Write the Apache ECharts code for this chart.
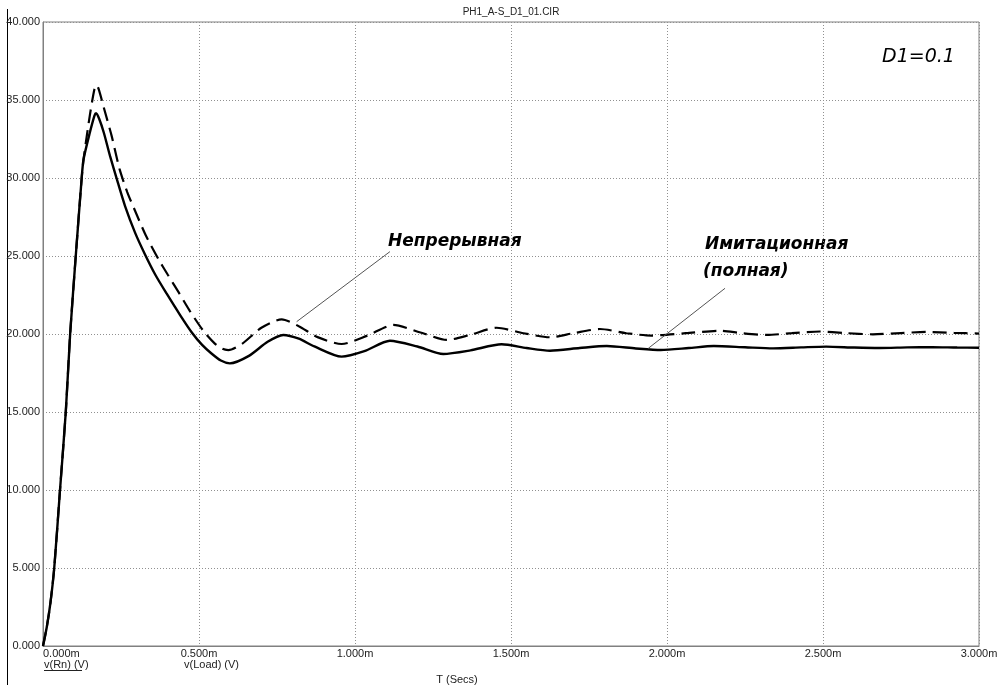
<!DOCTYPE html>
<html>
<head>
<meta charset="utf-8">
<script src="https://cdn.jsdelivr.net/npm/echarts@6/dist/echarts.min.js"></script>
<style>html,body{margin:0;padding:0;background:#fff}#c{width:997px;height:685px}</style>
</head>
<body>
<div id="c"></div>
<script>
// Time in ms
const solidT = [0, 0.012, 0.024, 0.036, 0.0545, 0.073, 0.087, 0.105, 0.124, 0.130, 0.15, 0.165, 0.17, 0.18, 0.195, 0.215, 0.24, 0.263, 0.295, 0.327, 0.36, 0.396, 0.44, 0.477, 0.51, 0.54, 0.57, 0.599, 0.66, 0.72, 0.77, 0.82, 0.87, 0.957, 1.03, 1.112, 1.2, 1.283, 1.37, 1.47, 1.55, 1.625, 1.72, 1.807, 1.9, 1.98, 2.07, 2.15, 2.25, 2.34, 2.43, 2.51, 2.6, 2.68, 2.77, 2.85, 2.93, 3.0];
const solidV = [0, 1.2, 2.8, 5, 10, 15, 20, 25, 30, 31.2, 32.9, 34.0, 34.15, 33.8, 32.9, 31.4, 29.7, 28.2, 26.5, 25.1, 23.8, 22.6, 21.2, 20.1, 19.3, 18.75, 18.3, 18.12, 18.6, 19.5, 19.94, 19.7, 19.2, 18.55, 18.9, 19.57, 19.2, 18.72, 18.95, 19.34, 19.1, 18.93, 19.1, 19.23, 19.07, 18.97, 19.1, 19.23, 19.15, 19.08, 19.14, 19.19, 19.13, 19.1, 19.14, 19.16, 19.13, 19.12];
const dashT = [0, 0.012, 0.024, 0.036, 0.0545, 0.073, 0.087, 0.105, 0.124, 0.130, 0.15, 0.165, 0.172, 0.18, 0.195, 0.22, 0.245, 0.27, 0.295, 0.33, 0.37, 0.40, 0.434, 0.47, 0.514, 0.55, 0.575, 0.594, 0.64, 0.70, 0.765, 0.82, 0.88, 0.957, 1.04, 1.123, 1.21, 1.294, 1.37, 1.454, 1.54, 1.625, 1.70, 1.785, 1.87, 1.95, 2.06, 2.17, 2.24, 2.32, 2.40, 2.49, 2.57, 2.66, 2.75, 2.83, 2.92, 3.0];
const dashV = [0, 1.2, 2.8, 5, 10, 15, 20, 25, 30, 31.2, 34.0, 35.7, 35.96, 35.6, 34.5, 32.7, 30.6, 29.1, 27.9, 26.3, 24.8, 23.8, 22.7, 21.5, 20.2, 19.4, 19.05, 18.97, 19.4, 20.4, 20.94, 20.5, 19.8, 19.36, 19.9, 20.58, 20.1, 19.62, 19.95, 20.4, 20.05, 19.79, 20.05, 20.32, 20.05, 19.9, 20.05, 20.21, 20.05, 19.94, 20.05, 20.16, 20.06, 19.98, 20.06, 20.13, 20.07, 20.03];
const leaderCont = [[0.813, 20.79], [1.112, 25.28]];
const leaderSim = [[1.940, 19.08], [2.186, 22.93]];
const xTicks = {min: 0, max: 3, interval: 0.5};
const yTicks = {min: 0, max: 40, interval: 5};

const zip = (t, v) => t.map((x, i) => [x, v[i]]);
const chart = echarts.init(document.getElementById('c'), null, {renderer: 'canvas'});
const lblFont = {fontFamily: 'Liberation Sans', fontSize: 11, color: '#222'};
const annFont = 'italic bold 17px "DejaVu Sans"';
chart.setOption({
  animation: false,
  backgroundColor: '#fff',
  grid: {left: 43, right: 18, top: 22, bottom: 39, show: true, borderColor: '#808080', borderWidth: 1, containLabel: false, outerBoundsMode: 'none'},
  xAxis: {
    type: 'value', min: xTicks.min, max: xTicks.max, interval: xTicks.interval,
    axisLine: {show: true, lineStyle: {color: '#808080', width: 1}},
    axisTick: {show: false},
    splitLine: {show: true, lineStyle: {color: '#909090', type: [1, 2], width: 1}},
    axisLabel: Object.assign({margin: 2, formatter: v => v.toFixed(3) + 'm', alignMinLabel: 'left'}, lblFont)
  },
  yAxis: {
    type: 'value', min: yTicks.min, max: yTicks.max, interval: yTicks.interval,
    axisLine: {show: true, lineStyle: {color: '#808080', width: 1}},
    axisTick: {show: false},
    splitLine: {show: true, lineStyle: {color: '#909090', type: [1, 2], width: 1}},
    axisLabel: Object.assign({margin: 3, formatter: v => v.toFixed(3)}, lblFont)
  },
  series: [
    {name: 'v(Rn)', type: 'line', data: zip(solidT, solidV), showSymbol: false, smooth: 0.25,
     lineStyle: {color: '#000', width: 2.4}},
    {name: 'v(Load)', type: 'line', data: zip(dashT, dashV), showSymbol: false, smooth: 0.25,
     lineStyle: {color: '#000', width: 2.2, type: [14, 7]}},
    {type: 'line', data: leaderCont, showSymbol: false, lineStyle: {color: '#555', width: 1}, silent: true},
    {type: 'line', data: leaderSim, showSymbol: false, lineStyle: {color: '#555', width: 1}, silent: true}
  ],
  graphic: [
    {type: 'line', shape: {x1: 7.5, y1: 9, x2: 7.5, y2: 685}, style: {stroke: '#000', lineWidth: 1}},
    {type: 'text', x: 511, y: 12, style: {text: 'PH1_A-S_D1_01.CIR', font: '10px "Liberation Sans"', fill: '#222', align: 'center', verticalAlign: 'middle'}},
    {type: 'text', x: 882, y: 57, style: {text: 'D1=0.1', font: 'italic 19px "DejaVu Sans"', fill: '#000', verticalAlign: 'middle'}},
    {type: 'text', x: 388, y: 242, style: {text: 'Непрерывная', font: annFont, fill: '#000', verticalAlign: 'middle'}},
    {type: 'text', x: 705, y: 245, style: {text: 'Имитационная', font: annFont, fill: '#000', verticalAlign: 'middle'}},
    {type: 'text', x: 703, y: 272, style: {text: '(полная)', font: annFont, fill: '#000', verticalAlign: 'middle'}},
    {type: 'text', x: 44, y: 665, style: {text: 'v(Rn) (V)', font: '11px "Liberation Sans"', fill: '#222', verticalAlign: 'middle'}},
    {type: 'line', shape: {x1: 44, y1: 670.5, x2: 82, y2: 670.5}, style: {stroke: '#222', lineWidth: 1}},
    {type: 'text', x: 184, y: 665, style: {text: 'v(Load) (V)', font: '11px "Liberation Sans"', fill: '#222', verticalAlign: 'middle'}},
    {type: 'text', x: 457, y: 680, style: {text: 'T (Secs)', font: '11px "Liberation Sans"', fill: '#222', align: 'center', verticalAlign: 'middle'}}
  ]
});
</script>
</body>
</html>
